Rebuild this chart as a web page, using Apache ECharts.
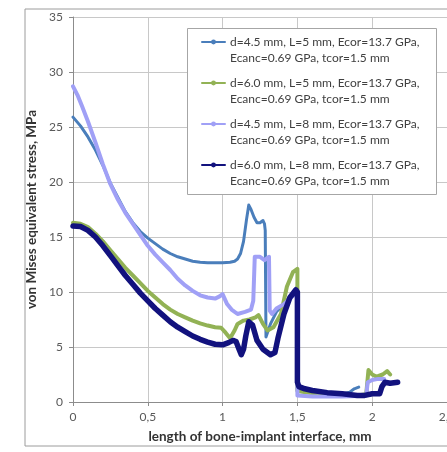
<!DOCTYPE html>
<html>
<head>
<meta charset="utf-8">
<script src="https://cdn.jsdelivr.net/npm/echarts@6/dist/echarts.min.js"></script>
<style>
    html, body { margin: 0; padding: 0; background: #fff; }
    #chart { width: 447px; height: 452px; }
</style>
</head>
<body>
<div id="chart"></div>
<script>
// d=4.5 mm, L=5 mm
let xs45L5 = [0, 0.05, 0.1, 0.15, 0.2, 0.25, 0.3, 0.35, 0.4, 0.45,
    0.5, 0.55, 0.6, 0.65, 0.7, 0.75, 0.8, 0.85, 0.9, 0.95,
    1.0, 1.05, 1.08, 1.1, 1.12, 1.14, 1.16, 1.175, 1.19, 1.21,
    1.23, 1.25, 1.27, 1.28, 1.285, 1.29, 1.32, 1.36, 1.41, 1.45,
    1.5, 1.5, 1.55, 1.6, 1.7, 1.8, 1.85, 1.88, 1.91];
let ys45L5 = [25.9, 25.1, 24.1, 22.9, 21.5, 19.9, 18.6, 17.3, 16.3, 15.5,
    14.9, 14.4, 13.9, 13.5, 13.2, 13.0, 12.8, 12.7, 12.65, 12.65,
    12.65, 12.7, 12.8, 13.0, 13.5, 14.6, 16.6, 17.9, 17.5, 16.8,
    16.3, 16.3, 16.5, 16.2, 15.6, 5.9, 7.1, 8.2, 8.9, 9.6,
    10.5, 1.0, 0.9, 0.85, 0.75, 0.7, 0.9, 1.2, 1.35];

// d=6.0 mm, L=5 mm
let xs60L5 = [0, 0.05, 0.1, 0.15, 0.2, 0.25, 0.3, 0.35, 0.4, 0.45,
    0.5, 0.55, 0.6, 0.65, 0.7, 0.75, 0.8, 0.85, 0.9, 0.95,
    0.99, 1.02, 1.05, 1.08, 1.1, 1.14, 1.18, 1.22, 1.24, 1.27,
    1.3, 1.34, 1.39, 1.43, 1.47, 1.5, 1.5, 1.6, 1.7, 1.8,
    1.9, 1.96, 1.975, 2.0, 2.03, 2.07, 2.1, 2.12];
let ys60L5 = [16.3, 16.2, 15.9, 15.3, 14.6, 13.8, 13.0, 12.2, 11.5, 10.8,
    10.1, 9.5, 8.9, 8.4, 8.0, 7.7, 7.4, 7.15, 6.95, 6.8,
    6.75, 6.3, 5.8, 6.5, 7.1, 7.4, 7.5, 7.7, 7.9, 7.1,
    6.5, 6.8, 8.0, 10.5, 11.8, 12.1, 1.0, 0.8, 0.7, 0.65,
    0.6, 0.7, 2.9, 2.5, 2.3, 2.5, 2.8, 2.5];

// d=4.5 mm, L=8 mm
let xs45L8 = [0, 0.03, 0.06, 0.1, 0.15, 0.2, 0.25, 0.3, 0.35, 0.4,
    0.45, 0.5, 0.55, 0.6, 0.65, 0.7, 0.75, 0.8, 0.85, 0.9,
    0.95, 0.98, 1.0, 1.03, 1.06, 1.1, 1.15, 1.19, 1.205, 1.215,
    1.25, 1.28, 1.31, 1.315, 1.33, 1.36, 1.41, 1.45, 1.5, 1.5,
    1.6, 1.7, 1.8, 1.9, 1.96, 1.97, 2.0, 2.04, 2.08];
let ys45L8 = [28.7, 27.9, 26.9, 25.5, 23.6, 21.6, 19.8, 18.4, 17.2, 16.2,
    15.2, 14.2, 13.4, 12.7, 12.0, 11.2, 10.6, 10.1, 9.7, 9.5,
    9.4, 9.6, 9.8, 8.9, 8.4, 8.0, 8.2, 8.4, 9.2, 13.2,
    13.2, 12.9, 13.2, 8.3, 8.0, 8.5, 8.9, 9.4, 10.0, 0.6,
    0.5, 0.5, 0.5, 0.55, 0.6, 1.8, 2.0, 2.1, 2.1];

// d=6.0 mm, L=8 mm
let xs60L8 = [0, 0.05, 0.1, 0.15, 0.2, 0.25, 0.3, 0.35, 0.4, 0.45,
    0.5, 0.55, 0.6, 0.65, 0.7, 0.75, 0.8, 0.85, 0.9, 0.95,
    1.0, 1.04, 1.07, 1.09, 1.11, 1.125, 1.14, 1.155, 1.175, 1.2,
    1.23, 1.27, 1.32, 1.35, 1.37, 1.41, 1.45, 1.49, 1.5, 1.5,
    1.51, 1.55, 1.6, 1.7, 1.8, 1.9, 1.95, 2.0, 2.05, 2.065,
    2.085, 2.12, 2.17];
let ys60L8 = [16.0, 15.95, 15.6, 15.0, 14.2, 13.3, 12.4, 11.5, 10.7, 9.9,
    9.2, 8.5, 7.9, 7.3, 6.8, 6.4, 6.0, 5.7, 5.45, 5.25,
    5.2, 5.4, 5.6, 5.5, 4.8, 4.3, 4.8, 6.0, 7.3, 7.0,
    5.6, 4.8, 4.3, 4.5, 5.8, 8.0, 9.5, 10.2, 10.0, 1.8,
    1.4, 1.2, 1.05, 0.85, 0.75, 0.6, 0.6, 0.75, 0.75, 1.4,
    1.8, 1.7, 1.8];

let seriesNames = [
    "d=4.5 mm, L=5 mm, Ecor=13.7 GPa,\nEcanc=0.69 GPa, tcor=1.5 mm",
    "d=6.0 mm, L=5 mm, Ecor=13.7 GPa,\nEcanc=0.69 GPa, tcor=1.5 mm",
    "d=4.5 mm, L=8 mm, Ecor=13.7 GPa,\nEcanc=0.69 GPa, tcor=1.5 mm",
    "d=6.0 mm, L=8 mm, Ecor=13.7 GPa,\nEcanc=0.69 GPa, tcor=1.5 mm"
];
let seriesColors = ["#4A7EBB", "#92B255", "#A0A0F6", "#12127E"];
let seriesWidths = [3, 4, 4, 5.5];
let seriesX = [xs45L5, xs60L5, xs45L8, xs60L8];
let seriesY = [ys45L5, ys60L5, ys45L8, ys60L8];

const fontName = "Lato";

let chartDom = document.getElementById("chart");
let chart = echarts.init(chartDom, null, {renderer: "canvas"});

let option = {
    animation: false,
    backgroundColor: "#fff",
    textStyle: {fontFamily: fontName},
    grid: {
        left: 73,
        top: 17,
        right: 0,
        bottom: 50,
        outerBoundsMode: "none"
    },
    graphic: [
        {
            // outer chart frame
            type: "rect",
            z: 0,
            shape: {x: 25, y: 9, width: 440, height: 437},
            style: {fill: "none", stroke: "#9c9c9c", lineWidth: 1}
        },
        {
            // legend box
            type: "rect",
            z: 3,
            shape: {x: 187.5, y: 28.5, width: 249, height: 166},
            style: {fill: "#fff", stroke: "#a6a6a6", lineWidth: 1}
        }
    ],
    legend: {
        orient: "vertical",
        left: 201,
        top: 18,
        padding: 0,
        itemGap: -7,
        itemWidth: 23,
        itemHeight: 6,
        z: 5,
        data: seriesNames,
        formatter: function (name) {
            return "\n" + name;
        },
        textStyle: {
            fontFamily: fontName,
            fontSize: 12,
            lineHeight: 16,
            color: "#404040"
        }
    },
    xAxis: {
        type: "value",
        min: 0,
        max: 2.5,
        interval: 0.5,
        name: "length of bone-implant interface, mm",
        nameLocation: "middle",
        nameGap: 28,
        nameTextStyle: {fontFamily: fontName, fontSize: 13.5, fontWeight: "bold", color: "#333"},
        axisLine: {show: true, lineStyle: {color: "#8c8c8c", width: 1}},
        axisTick: {show: true, length: 4, lineStyle: {color: "#8c8c8c"}},
        axisLabel: {
            margin: 9,
            fontSize: 12,
            color: "#595959",
            formatter: function (v) {
                return String(v).replace(".", ",");
            }
        },
        splitLine: {show: true, lineStyle: {color: "#c8c8c8", width: 1}}
    },
    yAxis: {
        type: "value",
        min: 0,
        max: 35,
        interval: 5,
        name: "von Mises equivalent stress, MPa",
        nameLocation: "middle",
        nameGap: 27,
        nameTextStyle: {fontFamily: fontName, fontSize: 13.5, fontWeight: "bold", color: "#333"},
        axisLine: {show: true, lineStyle: {color: "#8c8c8c", width: 1}},
        axisTick: {show: true, length: 4, lineStyle: {color: "#8c8c8c"}},
        axisLabel: {margin: 10, fontSize: 12, color: "#595959"},
        splitLine: {show: true, lineStyle: {color: "#c8c8c8", width: 1}}
    },
    series: seriesNames.map((name, i) => ({
        name: name,
        type: "line",
        data: seriesX[i].map((x, j) => [x, seriesY[i][j]]),
        symbol: "circle",
        symbolSize: 6,
        showSymbol: false,
        z: 2 + i,
        lineStyle: {color: seriesColors[i], width: seriesWidths[i], join: "round", cap: "round"},
        itemStyle: {color: seriesColors[i]}
    }))
};

chart.setOption(option);
</script>
</body>
</html>
